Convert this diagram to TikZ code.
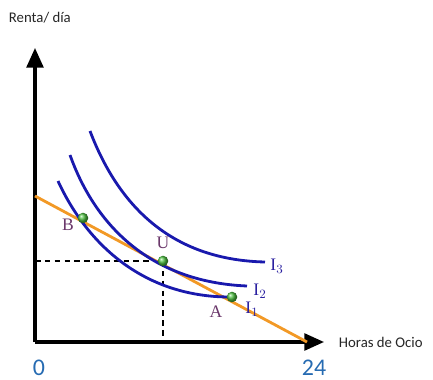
\documentclass[tikz,border=0pt]{standalone}
\usepackage{fontspec}
\newfontfamily\calfont{Carlito}
\newfontfamily\timesfont{Liberation Serif}
\usetikzlibrary{arrows.meta}
\definecolor{curveblue}{rgb}{0.10, 0.10, 0.68}
\definecolor{budgetorange}{rgb}{0.95, 0.60, 0.15}
\definecolor{ptpurple}{rgb}{0.42, 0.22, 0.42}
\definecolor{axisblue}{rgb}{0.15, 0.42, 0.70}
\definecolor{dotgreen}{rgb}{0.30, 0.75, 0.25}

\tikzset{
    axis/.style={line width=2.2pt, -{Triangle[length=14pt, width=12pt]}},
    icurve/.style={curveblue, line width=2pt},
    dot/.style={circle, inner sep=0pt, minimum size=7.5pt, ball color=dotgreen},
    ptlabel/.style={ptpurple, font=\timesfont\fontsize{12.5}{13}\selectfont},
    ilabel/.style={curveblue!80!ptpurple, font=\timesfont\fontsize{12.5}{13}\selectfont},
}

\begin{document}
\begin{tikzpicture}[x=0.025cm, y=-0.025cm]
    \useasboundingbox (0,0) rectangle (433,380);

    % Axes
    \coordinate (O) at (35,342);
    \draw[axis] (O) -- (35,48);
    \draw[axis] (O) -- (324,342);
    \node[anchor=west, font=\calfont\fontsize{10.5}{12}\selectfont, text=black!85] at (4,18) {Renta/ día};
    \node[anchor=west, font=\calfont\fontsize{10.5}{12}\selectfont, text=black!85] at (334,342) {Horas de Ocio};
    \node[axisblue, font=\calfont\fontsize{17}{18}\selectfont] at (39,368) {0};
    \node[axisblue, font=\calfont\fontsize{17}{18}\selectfont] at (314,368) {24};

    % Dashed guides to U
    \coordinate (U) at (163,261);
    \draw[dashed, line width=0.9pt, dash pattern=on 4pt off 3pt] (35,261) -- (U);
    \draw[dashed, line width=0.9pt, dash pattern=on 4pt off 3pt] (U) -- (163,342);

    % Budget line
    \draw[budgetorange, line width=2pt] (35,196) -- (307,342);

    % Indifference curves
    \draw[icurve] (58,181) .. controls (85,240) and (140,297) .. (230,297);
    \draw[icurve] (70,155) .. controls (95,225) and (150,282) .. (247,286);
    \draw[icurve] (90,131) .. controls (120,210) and (175,260) .. (265,262);
    \node[ilabel] at (277,266) {I$_3$};
    \node[ilabel] at (260,291) {I$_2$};
    \node[ilabel] at (252,309) {I$_1$};

    % Points
    \node[dot] (b) at (83,218) {};
    \node[dot] (u) at (U) {};
    \node[dot] (a) at (232,297) {};
    \node[ptlabel] at (68,225) {B};
    \node[ptlabel] at (163,243) {U};
    \node[ptlabel] at (216,312) {A};
\end{tikzpicture}
\end{document}
